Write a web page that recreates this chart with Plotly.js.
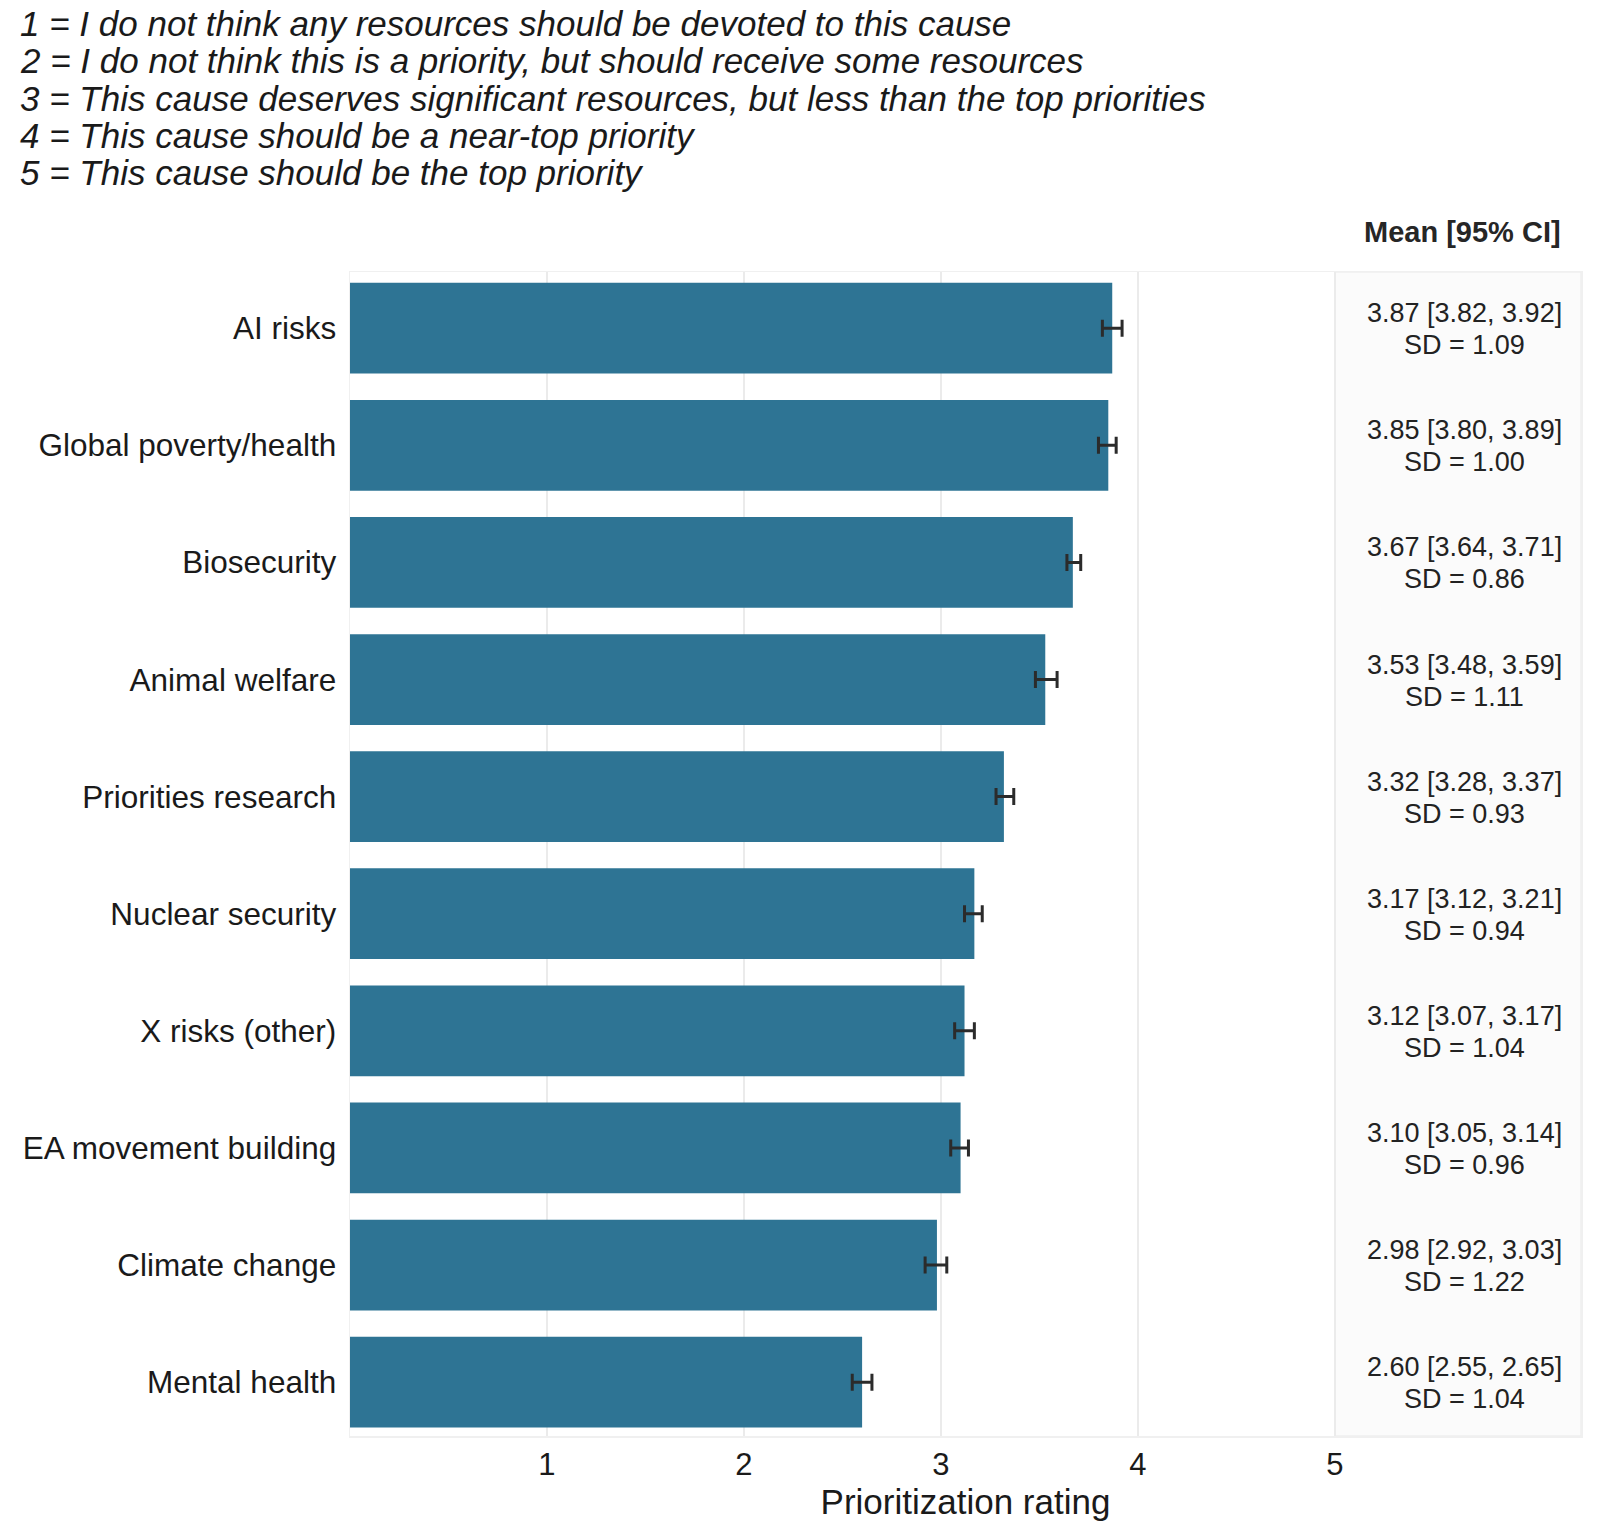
<!DOCTYPE html>
<html>
<head>
<meta charset="utf-8">
<script src="https://cdn.plot.ly/plotly-3.0.1.min.js"></script>
<style>
  html, body { margin: 0; padding: 0; background: #ffffff; }
  #chart { width: 1600px; height: 1538px; }
</style>
</head>
<body>
<div id="chart"></div>
<script>
// survey data: mean rating, 95% CI and SD per cause area
var causes = ["AI risks", "Global poverty/health", "Biosecurity", "Animal welfare",
    "Priorities research", "Nuclear security", "X risks (other)", "EA movement building",
    "Climate change", "Mental health"];
var means = [3.87, 3.85, 3.67, 3.53, 3.32, 3.17, 3.12, 3.10, 2.98, 2.60];
var ciLow = [3.82, 3.80, 3.64, 3.48, 3.28, 3.12, 3.07, 3.05, 2.92, 2.55];
var ciHigh = [3.92, 3.89, 3.71, 3.59, 3.37, 3.21, 3.17, 3.14, 3.03, 2.65];
var sds = [1.09, 1.00, 0.86, 1.11, 0.93, 0.94, 1.04, 0.96, 1.22, 1.04];

var xTicks = [1, 2, 3, 4, 5];
var scaleLines = [
    "1 = I do not think any resources should be devoted to this cause",
    "2 = I do not think this is a priority, but should receive some resources",
    "3 = This cause deserves significant resources, but less than the top priorities",
    "4 = This cause should be a near-top priority",
    "5 = This cause should be the top priority"
];

var FONT = '"Liberation Sans", Arial, sans-serif';
var W = 1600, H = 1538;
var M = { l: 350, r: 19, t: 272, b: 102 };
var plotW = W - M.l - M.r;
var plotH = H - M.t - M.b;

// pixel -> paper helpers for the header text
const px2x = (px) => (px - M.l) / plotW;
const px2y = (py) => (H - M.b - py) / plotH;

var errPlus = ciHigh.map((v, i) => +(v - means[i]).toFixed(2));
var errMinus = means.map((v, i) => +(v - ciLow[i]).toFixed(2));

var bars = {
    type: 'bar',
    orientation: 'h',
    y: causes,
    x: means,
    marker: { color: '#2e7494', line: { width: 0 } },
    error_x: {
        type: 'data',
        symmetric: false,
        array: errPlus,
        arrayminus: errMinus,
        color: '#2b2b2b',
        thickness: 3,
        width: 8.5
    },
    hoverinfo: 'none'
};

var annotations = [];

scaleLines.forEach((t, i) => {
    annotations.push({
        xref: 'paper', yref: 'paper',
        x: px2x(18), y: px2y(23.5 + i * 37.3),
        xanchor: 'left', yanchor: 'middle',
        text: '<i>' + t + '</i>',
        showarrow: false,
        font: { family: FONT, size: 35, color: '#1a1a1a' }
    });
});

annotations.push({
    xref: 'paper', yref: 'paper',
    x: px2x(1563), y: px2y(232.5),
    xanchor: 'right', yanchor: 'middle',
    text: '<b>Mean [95% CI]</b>',
    showarrow: false,
    font: { family: FONT, size: 29, color: '#262626' }
});

causes.forEach((c, i) => {
    annotations.push({
        xref: 'x', yref: 'y',
        x: 5.66, y: c,
        xanchor: 'center', yanchor: 'middle',
        yshift: 15,
        text: means[i].toFixed(2) + ' [' + ciLow[i].toFixed(2) + ', ' + ciHigh[i].toFixed(2) + ']',
        showarrow: false,
        font: { family: FONT, size: 27, color: '#222222' }
    });
    annotations.push({
        xref: 'x', yref: 'y',
        x: 5.66, y: c,
        xanchor: 'center', yanchor: 'middle',
        yshift: -17,
        text: 'SD = ' + sds[i].toFixed(2),
        showarrow: false,
        font: { family: FONT, size: 27, color: '#222222' }
    });
});

var layout = {
    width: W,
    height: H,
    margin: M,
    paper_bgcolor: '#ffffff',
    plot_bgcolor: '#ffffff',
    showlegend: false,
    bargap: 0.225,
    font: { family: FONT, color: '#1a1a1a' },
    xaxis: {
        range: [0, 6.25],
        tickvals: xTicks,
        ticktext: xTicks.map(String),
        ticks: '',
        showgrid: true,
        gridcolor: '#ebebeb',
        gridwidth: 2.5,
        zeroline: false,
        showline: true,
        mirror: true,
        linecolor: '#f0f0f0',
        linewidth: 1.5,
        tickfont: { family: FONT, size: 31, color: '#1a1a1a' },
        title: {
            text: 'Prioritization rating',
            font: { family: FONT, size: 35, color: '#1a1a1a' },
            standoff: 9
        },
        fixedrange: true
    },
    yaxis: {
        type: 'category',
        range: [9.46, -0.48],
        ticks: '',
        ticklabelstandoff: 6,
        showgrid: false,
        zeroline: false,
        showline: true,
        mirror: true,
        linecolor: '#f0f0f0',
        linewidth: 1.5,
        tickfont: { family: FONT, size: 31.5, color: '#1a1a1a' },
        fixedrange: true
    },
    shapes: [{
        type: 'rect',
        xref: 'x', yref: 'paper',
        x0: 5, x1: 6.25, y0: 0, y1: 1,
        fillcolor: '#fbfbfb',
        line: { color: '#efefef', width: 1.5 },
        layer: 'below'
    }],
    annotations: annotations
};

Plotly.newPlot('chart', [bars], layout, { displayModeBar: false, staticPlot: true });
</script>
</body>
</html>
